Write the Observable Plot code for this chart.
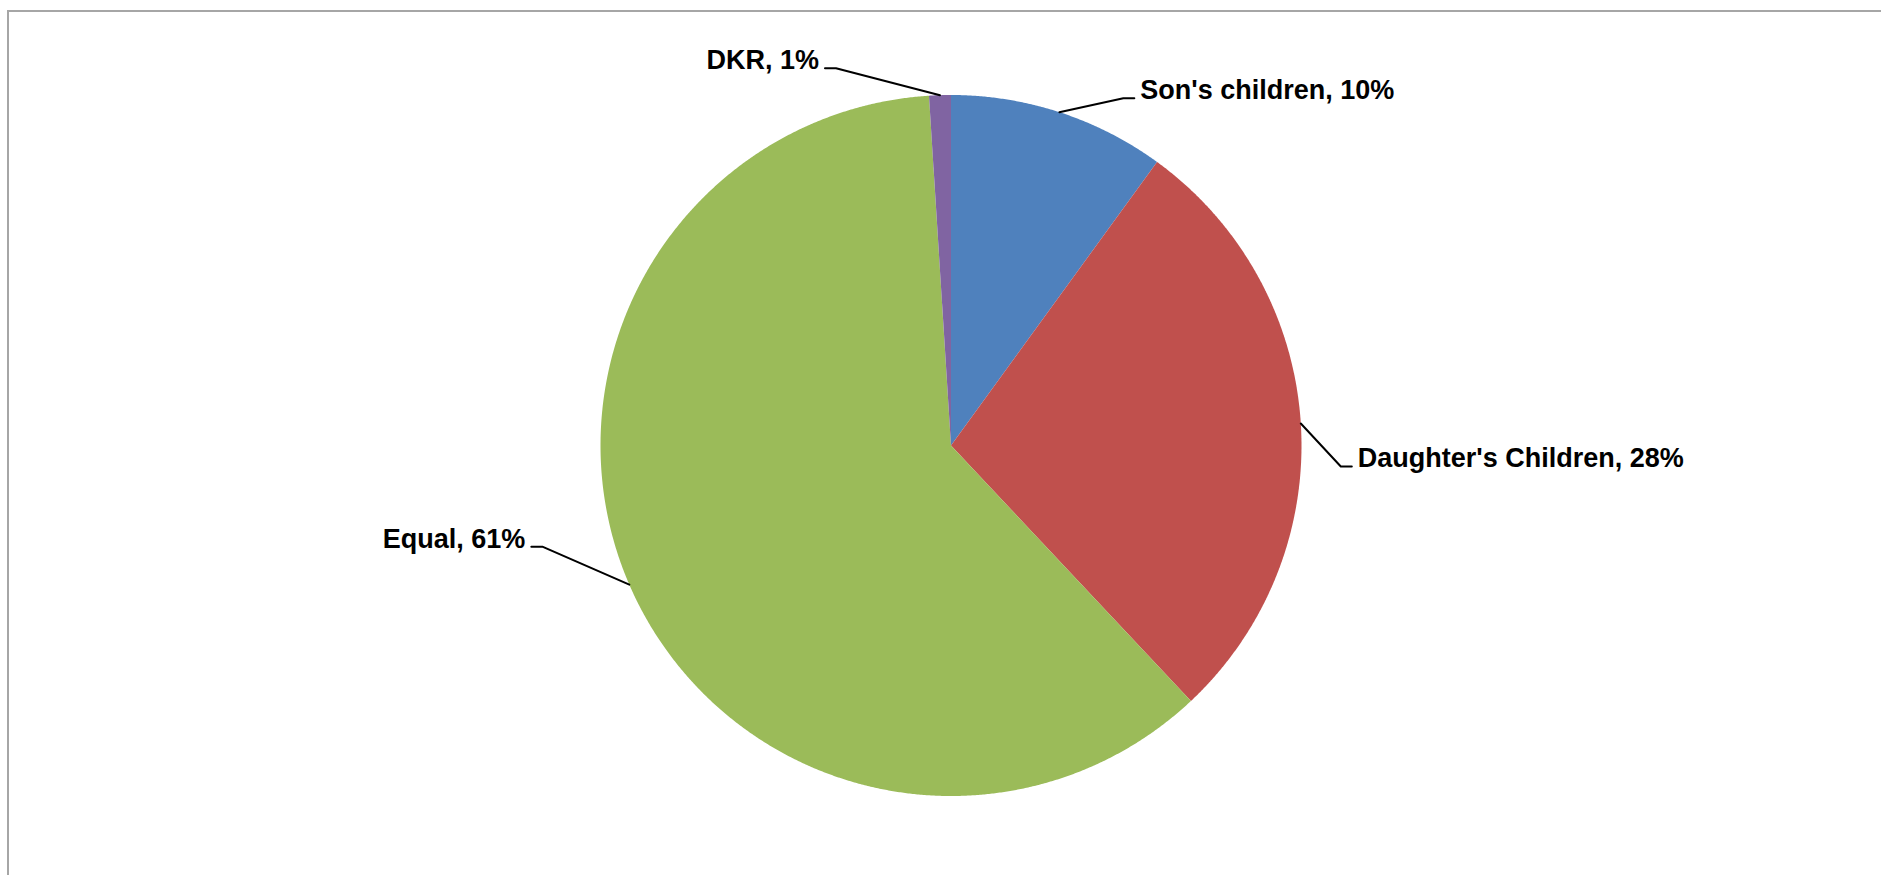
<!DOCTYPE html>
<html>
<head>
<meta charset="utf-8">
<script src="https://cdn.jsdelivr.net/npm/d3@7"></script>
<script src="https://cdn.jsdelivr.net/npm/@observablehq/plot@0.6"></script>
<style>
  html, body { margin: 0; padding: 0; background: #fff; }
  #frame { position: absolute; left: 0; top: 0; width: 1881px; height: 875px; overflow: hidden; }
  #border { position: absolute; left: 7px; top: 10px; width: 1900px; height: 900px;
            border-top: 2px solid #a6a6a6; border-left: 2px solid #a6a6a6; box-sizing: border-box; }
  #chart { position: absolute; left: 0; top: 0; }
</style>
</head>
<body>
<div id="frame"><div id="border"></div><div id="chart"></div></div>
<script>
// ---- data ----
const categories = ["Son's children", "Daughter's Children", "Equal", "DKR"];
const shares = [10, 28, 61, 1];
const colors = ["#4F81BD", "#C0504D", "#9BBB59", "#8064A2"];

// ---- layout (pixels) ----
const W = 1881, H = 875;
const CX = 950.5, CY = 445, R = 350.5;
// leader elbow offsets from the slice's mid-arc point (px), and label side
const labelOffsets = [
  {dx: 64, dy: -14, side: "right"},
  {dx: 40, dy: 43, side: "right"},
  {dx: -87, dy: -38, side: "left"},
  {dx: -104, dy: -27, side: "left"}
];

const total = d3.sum(shares);
let acc = 0;
const slices = categories.map((c, i) => {
  const a0 = acc / total * 2 * Math.PI;
  acc += shares[i];
  const a1 = acc / total * 2 * Math.PI;
  return {c, v: shares[i], a0, a1};
});

// polygon points in unit coordinates (y up), angle clockwise from top
const piePts = [];
for (const s of slices) {
  piePts.push({c: s.c, x: 0, y: 0});
  const n = Math.max(2, Math.ceil((s.a1 - s.a0) / (Math.PI / 720)));
  for (let k = 0; k <= n; k++) {
    const a = s.a0 + (s.a1 - s.a0) * k / n;
    piePts.push({c: s.c, x: Math.sin(a), y: Math.cos(a)});
  }
}

const leaderPts = [];
const labelsL = [], labelsR = [];
slices.forEach((s, i) => {
  const m = (s.a0 + s.a1) / 2;
  const ax = Math.sin(m), ay = Math.cos(m);
  const o = labelOffsets[i];
  const ex = ax + o.dx / R, ey = ay - o.dy / R;
  const sgn = o.side === "right" ? 1 : -1;
  const tx = ex + sgn * 11 / R;
  leaderPts.push({c: s.c, x: ax, y: ay}, {c: s.c, x: ex, y: ey}, {c: s.c, x: tx, y: ey});
  const lab = {c: s.c, x: tx + sgn * 6 / R, y: ey - 1 / R, text: `${s.c}, ${s.v}%`};
  (o.side === "right" ? labelsR : labelsL).push(lab);
});

const xDomain = [-CX / R, (W - CX) / R];
const yDomain = [CY / R, -(H - CY) / R];

const textOpts = {x: "x", y: "y", text: "text", fontSize: 27, fontWeight: "bold",
  fill: "black", lineAnchor: "bottom"};

const chart = Plot.plot({
  width: W, height: H,
  margin: 0,
  style: {fontFamily: "'Liberation Sans', Arial, sans-serif", background: "transparent", overflow: "visible"},
  x: {domain: xDomain, range: [0, W], axis: null},
  y: {domain: yDomain, range: [0, H], axis: null},
  color: {domain: categories, range: colors},
  marks: [
    Plot.line(piePts, {x: "x", y: "y", z: "c", fill: "c", stroke: "none", curve: "linear-closed"}),
    Plot.line(leaderPts, {x: "x", y: "y", z: "c", stroke: "black", strokeWidth: 2}),
    Plot.text(labelsR, {...textOpts, textAnchor: "start"}),
    Plot.text(labelsL, {...textOpts, textAnchor: "end"})
  ]
});
document.getElementById("chart").appendChild(chart);
</script>
</body>
</html>
